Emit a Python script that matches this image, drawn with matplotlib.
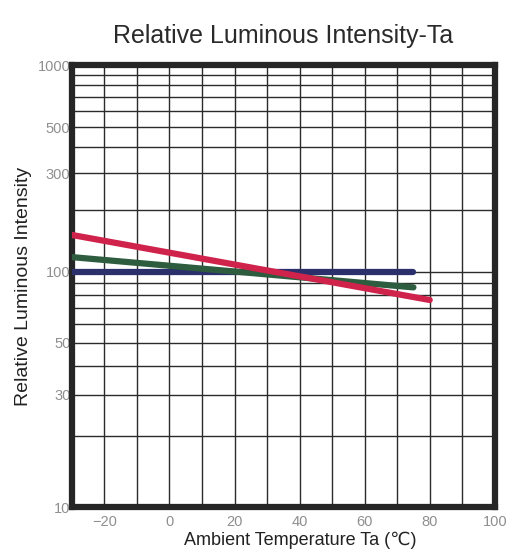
import numpy as np
import matplotlib.pyplot as plt
from matplotlib.ticker import FixedLocator, NullFormatter

plt.rcParams['font.family'] = ['Liberation Sans', 'DejaVu Sans']

# temperature (deg C) and relative intensity (%) at the ends of each curve
red_temp = [-30, 80]
red_val = [151, 76]
green_temp = [-30, 75]
green_val = [118, 86]
blue_temp = [-30, 75]
blue_val = [100, 100]

y_ticks = [10, 30, 50, 100, 300, 500, 1000]
y_tick_labels = ["10", "30", "50", "100", "300", "500", "1000"]
x_ticks = [-20, 0, 20, 40, 60, 80, 100]

# the printed chart squeezes the upper decade a little
K = 0.88


def fwd(y):
    t = np.log10(np.clip(y, 1e-9, None))
    return np.where(t <= 2, t, 2 + (t - 2) * K)


def inv(s):
    s = np.asarray(s, dtype=float)
    return np.where(s <= 2, 10 ** s, 10 ** (2 + (s - 2) / K))


fig = plt.figure(figsize=(5.17, 5.52), dpi=100)
ax = fig.add_axes([0.139, 0.0815, 0.818, 0.8005])

ax.set_yscale("function", functions=(fwd, inv))
ax.set_xlim(-30, 100)
ax.set_ylim(10, 1000)

# grid: every 10 degrees, every log step
ax.xaxis.set_minor_locator(FixedLocator(np.arange(-20, 101, 10)))
minor_y = [v * d for d in (10, 100) for v in range(2, 10)]
ax.yaxis.set_minor_locator(FixedLocator(minor_y))
ax.yaxis.set_minor_formatter(NullFormatter())
ax.grid(True, which="both", color="#2b2b2b", linewidth=1.0)
ax.set_axisbelow(True)

ax.plot(blue_temp, blue_val, color="#2b2f6b", linewidth=4.5, solid_capstyle="round", zorder=3)
ax.plot(green_temp, green_val, color="#2d5c3e", linewidth=4.5, solid_capstyle="round", zorder=4)
ax.plot(red_temp, red_val, color="#d0234b", linewidth=4.5, solid_capstyle="round", zorder=5)

ax.set_xticks(x_ticks)
ax.set_yticks(y_ticks)
ax.set_yticklabels(y_tick_labels)
ax.tick_params(which="both", length=0, labelsize=10.5, labelcolor="#8f8f8f")
ax.tick_params(axis="x", pad=6)
ax.tick_params(axis="y", pad=1)

for s in ax.spines.values():
    s.set_linewidth(4.5)
    s.set_color("#262626")

ax.set_xlabel("Ambient Temperature Ta (℃)", fontsize=13, color="#222222")
ax.xaxis.set_label_coords(0.54, -0.055)
ax.set_ylabel("Relative Luminous Intensity", fontsize=14, color="#222222", labelpad=4)
ax.set_title("Relative Luminous Intensity-Ta", fontsize=18, color="#2a2a2a", pad=16)

fig.savefig("out.png", dpi=100)
